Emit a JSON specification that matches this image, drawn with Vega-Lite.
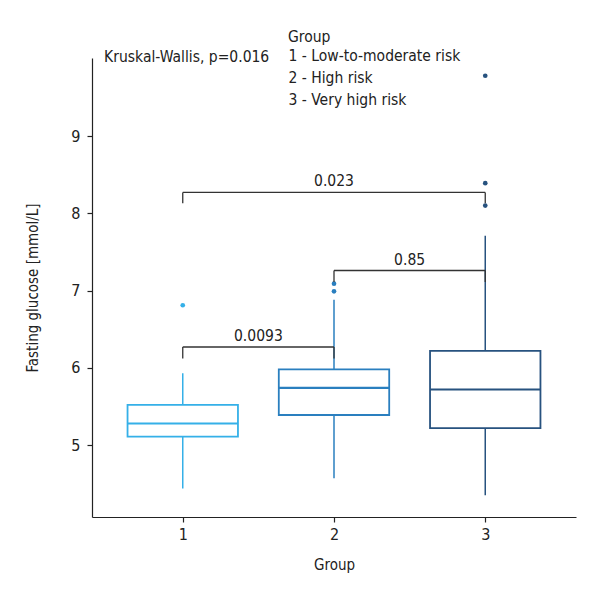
{
  "$schema": "https://vega.github.io/schema/vega-lite/v6.json",
  "autosize": {"type": "none"},
  "padding": {"left": 92, "top": 58, "right": 24, "bottom": 83},
  "width": 484,
  "height": 459,
  "config": {
    "font": "'DejaVu Sans Condensed', 'Liberation Sans Narrow', Roboto, sans-serif",
    "view": {"stroke": null},
    "text": {"font": "'DejaVu Sans Condensed', 'Liberation Sans Narrow', Roboto, sans-serif"},
    "axis": {"grid": false, "domainColor": "#222222", "tickColor": "#222222", "labelColor": "#222222", "titleColor": "#222222", "labelFontSize": 16, "titleFontSize": 15, "titleFontWeight": "normal", "labelFont": "'DejaVu Sans Condensed', 'Liberation Sans Narrow', Roboto, sans-serif", "titleFont": "'DejaVu Sans Condensed', 'Liberation Sans Narrow', Roboto, sans-serif", "tickSize": 5, "domainWidth": 1.2, "tickWidth": 1.2},
    "legend": {"labelFont": "'DejaVu Sans Condensed', 'Liberation Sans Narrow', Roboto, sans-serif", "titleFont": "'DejaVu Sans Condensed', 'Liberation Sans Narrow', Roboto, sans-serif"}
  },
  "datasets": {
    "boxes": [
      {"grp": "1", "g": 1, "lower": 4.44, "q1": 5.11, "median": 5.28, "q3": 5.52, "upper": 5.93},
      {"grp": "2", "g": 2, "lower": 4.57, "q1": 5.39, "median": 5.74, "q3": 5.98, "upper": 6.88},
      {"grp": "3", "g": 3, "lower": 4.35, "q1": 5.22, "median": 5.72, "q3": 6.22, "upper": 7.71}
    ],
    "outliers": [
      {"grp": "1", "g": 1, "v": 6.81},
      {"grp": "2", "g": 2, "v": 7.09},
      {"grp": "2", "g": 2, "v": 6.99},
      {"grp": "3", "g": 3, "v": 9.78},
      {"grp": "3", "g": 3, "v": 8.39},
      {"grp": "3", "g": 3, "v": 8.10}
    ],
    "brackets": [
      {"x1": 1, "x2": 2, "y": 6.27, "tip": 6.12, "label": "0.0093", "mid": 1.5},
      {"x1": 2, "x2": 3, "y": 7.26, "tip": 7.11, "label": "0.85", "mid": 2.5},
      {"x1": 1, "x2": 3, "y": 8.27, "tip": 8.13, "label": "0.023", "mid": 2}
    ],
    "notes": [
      {"x": 0.48, "y": 10.02, "text": "Kruskal-Wallis, p=0.016"}
    ]
  },
  "layer": [
    {
      "data": {"name": "boxes"},
      "mark": {"type": "rule", "strokeWidth": 1.5},
      "encoding": {
        "x": {"field": "g", "type": "quantitative", "scale": {"domain": [0.4, 3.6], "nice": false, "zero": false}, "axis": {"values": [1, 2, 3], "format": "d", "title": "Group", "labelPadding": 4, "titlePadding": 15}},
        "y": {"field": "lower", "type": "quantitative", "scale": {"domain": [4.07, 10.01], "nice": false, "zero": false}, "axis": {"values": [5, 6, 7, 8, 9], "format": "d", "title": "Fasting glucose [mmol/L]", "labelPadding": 7, "titlePadding": 30}},
        "y2": {"field": "upper"},
        "color": {"field": "grp", "type": "nominal", "scale": {"domain": ["1", "2", "3"], "range": ["#35b0e8", "#2a7fbf", "#27527f"]}, "legend": {"title": "Group", "orient": "none", "legendX": 196, "legendY": -28, "symbolSize": 0, "symbolStrokeWidth": 0, "symbolOpacity": 0, "labelOffset": -15, "labelLimit": 400, "labelExpr": "datum.label == '1' ? '1 - Low-to-moderate risk' : datum.label == '2' ? '2 - High risk' : '3 - Very high risk'", "labelFontSize": 15.5, "titleFontSize": 15.5, "titleFontWeight": "normal", "labelColor": "#222222", "titleColor": "#222222", "rowPadding": 5, "titlePadding": 3}}
      }
    },
    {
      "data": {"name": "boxes"},
      "transform": [
        {"calculate": "datum.g - 0.365", "as": "xl"},
        {"calculate": "datum.g + 0.365", "as": "xr"}
      ],
      "mark": {"type": "rect", "fill": "white", "strokeWidth": 1.8},
      "encoding": {
        "x": {"field": "xl", "type": "quantitative"},
        "x2": {"field": "xr"},
        "y": {"field": "q1", "type": "quantitative"},
        "y2": {"field": "q3"},
        "stroke": {"field": "grp", "type": "nominal", "scale": {"domain": ["1", "2", "3"], "range": ["#35b0e8", "#2a7fbf", "#27527f"]}, "legend": null}
      }
    },
    {
      "data": {"name": "boxes"},
      "transform": [
        {"calculate": "datum.g - 0.365", "as": "xl"},
        {"calculate": "datum.g + 0.365", "as": "xr"}
      ],
      "mark": {"type": "rule", "strokeWidth": 2.2},
      "encoding": {
        "x": {"field": "xl", "type": "quantitative"},
        "x2": {"field": "xr"},
        "y": {"field": "median", "type": "quantitative"},
        "color": {"field": "grp", "type": "nominal"}
      }
    },
    {
      "data": {"name": "outliers"},
      "mark": {"type": "point", "filled": true, "size": 22, "opacity": 1},
      "encoding": {
        "x": {"field": "g", "type": "quantitative"},
        "y": {"field": "v", "type": "quantitative"},
        "color": {"field": "grp", "type": "nominal"}
      }
    },
    {
      "data": {"name": "brackets"},
      "mark": {"type": "rule", "color": "#333333", "strokeWidth": 1.3},
      "encoding": {
        "x": {"field": "x1", "type": "quantitative"},
        "x2": {"field": "x2"},
        "y": {"field": "y", "type": "quantitative"}
      }
    },
    {
      "data": {"name": "brackets"},
      "mark": {"type": "rule", "color": "#333333", "strokeWidth": 1.3},
      "encoding": {
        "x": {"field": "x1", "type": "quantitative"},
        "y": {"field": "y", "type": "quantitative"},
        "y2": {"field": "tip"}
      }
    },
    {
      "data": {"name": "brackets"},
      "mark": {"type": "rule", "color": "#333333", "strokeWidth": 1.3},
      "encoding": {
        "x": {"field": "x2", "type": "quantitative"},
        "y": {"field": "y", "type": "quantitative"},
        "y2": {"field": "tip"}
      }
    },
    {
      "data": {"name": "brackets"},
      "mark": {"type": "text", "fontSize": 15.5, "baseline": "bottom", "dy": -3, "color": "#222222"},
      "encoding": {
        "x": {"field": "mid", "type": "quantitative"},
        "y": {"field": "y", "type": "quantitative"},
        "text": {"field": "label"}
      }
    },
    {
      "data": {"name": "notes"},
      "mark": {"type": "text", "fontSize": 15.5, "align": "left", "baseline": "middle", "color": "#222222"},
      "encoding": {
        "x": {"field": "x", "type": "quantitative"},
        "y": {"field": "y", "type": "quantitative"},
        "text": {"field": "text"}
      }
    }
  ]
}
